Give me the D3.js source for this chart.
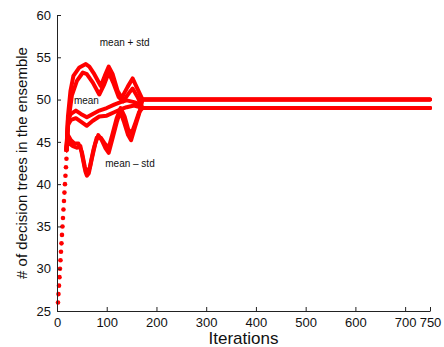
<!DOCTYPE html>
<html>
<head>
<meta charset="utf-8">
<script src="https://cdn.jsdelivr.net/npm/d3@7"></script>
<style>
  html, body { margin: 0; padding: 0; background: #fff; }
  svg { display: block; font-family: "Liberation Sans", Arial, Helvetica, sans-serif; }
</style>
</head>
<body>
<svg id="chart" width="444" height="347"></svg>
<script>
// Ensemble size over iterations: early growth, then mean / mean ± std for two runs.
const xTicks = [0, 100, 200, 300, 400, 500, 600, 700, 750];
const yTicks = [25, 30, 35, 40, 45, 50, 55, 60];

// Early growth phase, one tree added per iteration
const rampIter = [2, 3, 4, 5, 6, 7, 8, 9, 10, 11, 12, 13, 14, 15, 16, 17, 18, 19];
const rampVal  = [26, 27, 28, 29, 30, 31, 32, 33, 34, 35, 36, 37, 38, 39, 40, 41, 42, 43];

// Run A (converges to 50)
const plusStdAIter = [19, 22, 27, 33, 45, 58, 65, 75, 88, 96, 104, 112, 122, 130, 142, 152, 160, 172, 750];
const plusStdAVal  = [44, 48, 51, 52.8, 53.8, 54.2, 53.9, 53, 51.6, 52.8, 53.9, 53, 51, 50.2, 51.5, 52.5, 51.5, 50, 50];
const meanAIter    = [19, 22, 28, 38, 48, 60, 72, 85, 100, 115, 128, 140, 155, 165, 172, 750];
const meanAVal     = [44, 47.6, 48.3, 48.7, 48.3, 47.9, 48.3, 48.7, 49, 49.4, 49.7, 49.9, 49.7, 49.5, 50, 50];
const minusStdAIter = [19, 21, 25, 32, 40, 47, 52, 57, 60, 64, 70, 77, 83, 90, 97, 104, 112, 120, 127, 135, 143, 149, 157, 165, 172, 750];
const minusStdAVal  = [44, 45.4, 44.8, 44.5, 44.3, 44.5, 43, 41.5, 41, 41.3, 43, 44.8, 45.8, 45.2, 44.3, 43.7, 45.5, 47.3, 48.6, 47.3, 45.8, 45.2, 46.8, 48.3, 50, 50];

// Run B (converges to 49)
const plusStdBIter = [19, 23, 30, 40, 52, 60, 72, 85, 95, 104, 113, 124, 133, 145, 152, 162, 172, 750];
const plusStdBVal  = [44, 47.5, 50.5, 52.2, 53.2, 53, 52, 50.6, 51.8, 53.2, 52, 50.3, 49.8, 50.8, 51.3, 50.3, 49, 49];
const meanBIter    = [19, 22, 28, 38, 48, 60, 72, 85, 100, 115, 126, 140, 155, 166, 172, 750];
const meanBVal     = [44, 47, 47.6, 47.8, 47.4, 46.9, 47.5, 48, 48.1, 48.5, 48.8, 49.1, 49.3, 49.1, 49, 49];
const minusStdBIter = [19, 22, 28, 35, 43, 50, 56, 61, 66, 73, 80, 88, 96, 104, 112, 120, 128, 136, 143, 150, 158, 165, 172, 750];
const minusStdBVal  = [44, 45.8, 45.2, 44.8, 44.8, 43.8, 42, 41.3, 42, 44, 45.5, 45.5, 44.8, 44.3, 46, 47.8, 49, 48, 46.5, 46, 47.3, 48.5, 49, 49];

const annotations = [
  { text: "mean + std", it: 86, v: 56.8 },
  { text: "mean", it: 34, v: 49.9 },
  { text: "mean \u2013 std", it: 97, v: 42.4 }
];

const W = 444, H = 347;
const margin = { left: 57, right: 14, top: 15, bottom: 36 };
const svg = d3.select("#chart");

const x = d3.scaleLinear().domain([0, 750]).range([margin.left, W - margin.right]);
const y = d3.scaleLinear().domain([25, 60]).range([H - margin.bottom, margin.top]);

const red = "#ff0000";
const line = d3.line().x(d => x(d[0])).y(d => y(d[1]));

const series = [
  [plusStdAIter, plusStdAVal], [meanAIter, meanAVal], [minusStdAIter, minusStdAVal],
  [plusStdBIter, plusStdBVal], [meanBIter, meanBVal], [minusStdBIter, minusStdBVal]
];

const plot = svg.append("g");
series.forEach(([its, vals]) => {
  const pts = its.map((it, i) => [it, vals[i]]);
  plot.append("path")
    .attr("d", line(pts))
    .attr("fill", "none")
    .attr("stroke", red)
    .attr("stroke-width", 4)
    .attr("stroke-linejoin", "round")
    .attr("stroke-linecap", "round");
});

plot.selectAll("circle.ramp")
  .data(rampIter.map((it, i) => [it, rampVal[i]]))
  .join("circle")
  .attr("class", "ramp")
  .attr("cx", d => x(d[0]))
  .attr("cy", d => y(d[1]))
  .attr("r", 2.3)
  .attr("fill", red);

// Axes (left and bottom only, ticks pointing inward)
const axisColor = "#222";
const xAxis = svg.append("g")
  .attr("transform", `translate(0,${H - margin.bottom})`)
  .call(d3.axisBottom(x).tickValues(xTicks).tickSizeInner(-4).tickSizeOuter(0).tickPadding(7).tickFormat(d3.format("d")));
const yAxis = svg.append("g")
  .attr("transform", `translate(${margin.left},0)`)
  .call(d3.axisLeft(y).tickValues(yTicks).tickSizeInner(-4).tickSizeOuter(0).tickPadding(6).tickFormat(d3.format("d")));

[xAxis, yAxis].forEach(g => {
  g.select(".domain").attr("stroke", axisColor).attr("stroke-width", 1);
  g.selectAll(".tick line").attr("stroke", axisColor);
  g.selectAll(".tick text").attr("fill", "#111").style("font-size", "13px").style("font-family", "'Liberation Sans', Arial, sans-serif");
});

// Annotations
svg.selectAll("text.ann")
  .data(annotations)
  .join("text")
  .attr("class", "ann")
  .attr("x", d => x(d.it))
  .attr("y", d => y(d.v))
  .attr("dy", "0.35em")
  .attr("fill", "#111")
  .style("font-size", "10px")
  .text(d => d.text);

// Axis titles
svg.append("text")
  .attr("x", (margin.left + W - margin.right) / 2)
  .attr("y", 344)
  .attr("text-anchor", "middle")
  .attr("fill", "#111")
  .style("font-size", "17px")
  .text("Iterations");

svg.append("text")
  .attr("transform", `translate(22,${(margin.top + H - margin.bottom) / 2}) rotate(-90)`)
  .attr("text-anchor", "middle")
  .attr("dy", "0.35em")
  .attr("fill", "#111")
  .style("font-size", "15px")
  .text("# of decision trees in the ensemble");
</script>
</body>
</html>
